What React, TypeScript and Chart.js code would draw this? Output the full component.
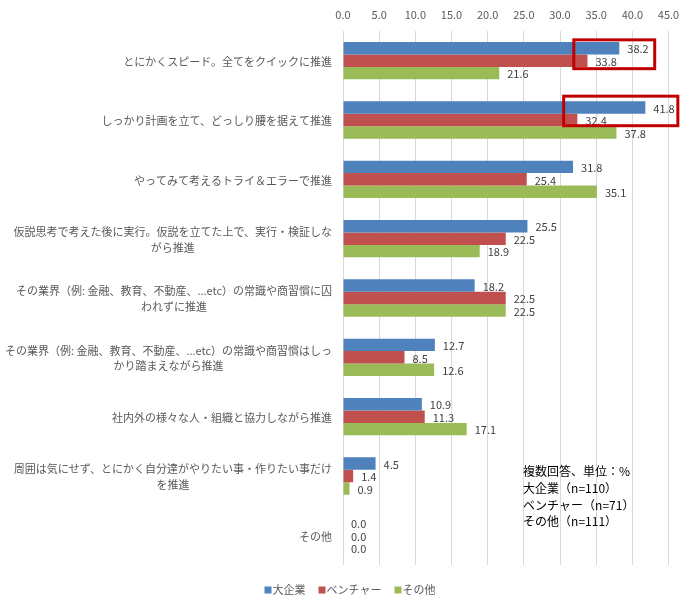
import React, { useEffect, useRef } from 'react';
import { Chart, registerables } from 'chart.js';

Chart.register(...registerables);

const FONT = '"Noto Sans CJK JP", "Noto Sans", sans-serif';

const categories: string[][] = [
  ['とにかくスピード。全てをクイックに推進'],
  ['しっかり計画を立て、どっしり腰を据えて推進'],
  ['やってみて考えるトライ＆エラーで推進'],
  ['仮説思考で考えた後に実行。仮説を立てた上で、実行・検証しな', 'がら推進'],
  ['その業界（例: 金融、教育、不動産、...etc）の常識や商習慣に囚', 'われずに推進'],
  ['その業界（例: 金融、教育、不動産、...etc）の常識や商習慣はしっ', 'かり踏まえながら推進'],
  ['社内外の様々な人・組織と協力しながら推進'],
  ['周囲は気にせず、とにかく自分達がやりたい事・作りたい事だけ', 'を推進'],
  ['その他'],
];

const seriesNames = ['大企業', 'ベンチャー', 'その他'];
const largeCorp = [38.2, 41.8, 31.8, 25.5, 18.2, 12.7, 10.9, 4.5, 0.0];
const venture = [33.8, 32.4, 25.4, 22.5, 22.5, 8.5, 11.3, 1.4, 0.0];
const others = [21.6, 37.8, 35.1, 18.9, 22.5, 12.6, 17.1, 0.9, 0.0];
const colors = ['#4F81BD', '#C0504D', '#9BBB59'];

const noteLines = ['複数回答、単位：%', '大企業（n=110）', 'ベンチャー（n=71）', 'その他（n=111）'];

// red highlight boxes: category index, value range, extra px above blue / below red bar
const highlights = [
  { cat: 0, from: 31.7, to: 43.3, padTop: 3.7, padBottom: 3.3 },
  { cat: 1, from: 30.3, to: 46.5, padTop: 6.7, padBottom: 1 },
];

const overlayPlugin = {
  id: 'overlay',
  afterDatasetsDraw(chart: any) {
    const { ctx, scales } = chart;
    const x = scales.x;
    const y = scales.y;
    ctx.save();

    // value labels
    ctx.font = '11px ' + FONT;
    ctx.fillStyle = '#404040';
    ctx.textAlign = 'left';
    ctx.textBaseline = 'middle';
    chart.data.datasets.forEach((ds: any, di: number) => {
      chart.getDatasetMeta(di).data.forEach((bar: any, i: number) => {
        ctx.fillText(Number(ds.data[i]).toFixed(1), bar.x + 8, bar.y + 1);
      });
    });

    // category labels: block right-aligned, lines centered
    ctx.fillStyle = '#595959';
    ctx.textAlign = 'center';
    categories.forEach((lines, i) => {
      const cy = y.getPixelForValue(i);
      const maxW = Math.max(...lines.map((l) => ctx.measureText(l).width));
      const cx = x.left - 11 - maxW / 2;
      lines.forEach((l, j) => {
        ctx.fillText(l, cx, cy + (j - (lines.length - 1) / 2) * 15.6 + 1);
      });
    });

    // highlight boxes
    ctx.strokeStyle = '#C00000';
    ctx.lineWidth = 3;
    highlights.forEach((h) => {
      const blue = chart.getDatasetMeta(0).data[h.cat];
      const red = chart.getDatasetMeta(1).data[h.cat];
      const top = blue.y - blue.height / 2 - h.padTop;
      const bottom = red.y + red.height / 2 + h.padBottom;
      const left = x.getPixelForValue(h.from);
      const right = x.getPixelForValue(h.to);
      ctx.strokeRect(left + 1.5, top + 1.5, right - left - 3, bottom - top - 3);
    });

    // note text
    ctx.font = '12px ' + FONT;
    ctx.fillStyle = '#000000';
    ctx.textAlign = 'left';
    const nx = x.getPixelForValue(24.9);
    const ny = y.getPixelForValue(7) - 4.5;
    noteLines.forEach((l, j) => ctx.fillText(l, nx, ny + j * 16.8));

    // legend
    ctx.font = '11px ' + FONT;
    ctx.fillStyle = '#595959';
    const box = 7;
    const gap = 1;
    const spacing = 13;
    const widths = seriesNames.map((n) => box + gap + ctx.measureText(n).width);
    const total = widths.reduce((a, b) => a + b, 0) + spacing * (widths.length - 1);
    let lx = (chart.width - total) / 2 + 3;
    const ly = y.bottom + 25;
    seriesNames.forEach((n, i) => {
      ctx.fillStyle = colors[i];
      ctx.fillRect(lx, ly - box / 2, box, box);
      ctx.fillStyle = '#595959';
      ctx.fillText(n, lx + box + gap, ly);
      lx += widths[i] + spacing;
    });

    ctx.restore();
  },
};

export default function App() {
  const canvasRef = useRef<HTMLCanvasElement>(null);

  useEffect(() => {
    Chart.defaults.font.family = FONT;
    const chart = new Chart(canvasRef.current!, {
      type: 'bar',
      data: {
        labels: categories.map((c) => c.join('')),
        datasets: [largeCorp, venture, others].map((d, i) => ({
          label: seriesNames[i],
          data: d,
          backgroundColor: colors[i],
          borderWidth: 0,
          barPercentage: 1,
          categoryPercentage: 0.628,
        })),
      },
      options: {
        indexAxis: 'y',
        responsive: false,
        animation: false,
        layout: { padding: { top: 0, right: 25.5, bottom: 46, left: 0 } },
        plugins: {
          legend: { display: false },
          tooltip: { enabled: false },
        },
        scales: {
          x: {
            position: 'top',
            min: 0,
            max: 45,
            ticks: {
              stepSize: 5,
              padding: 10,
              color: '#595959',
              font: { size: 11 },
              callback: (v: any) => Number(v).toFixed(1),
            },
            grid: { color: '#D9D9D9', drawTicks: false },
            border: { display: false },
            afterFit: (s: any) => {
              s.height = 31;
            },
          },
          y: {
            ticks: { display: false },
            grid: { display: false },
            border: { display: false },
            afterFit: (s: any) => {
              s.width = 343;
            },
          },
        },
      },
      plugins: [overlayPlugin],
    });
    return () => {
      chart.destroy();
    };
  }, []);

  return (
    <div style={{ position: 'absolute', left: 0, top: 0, width: 694, height: 611, background: '#fff' }}>
      <canvas ref={canvasRef} width={694} height={611} style={{ display: 'block' }} />
    </div>
  );
}
